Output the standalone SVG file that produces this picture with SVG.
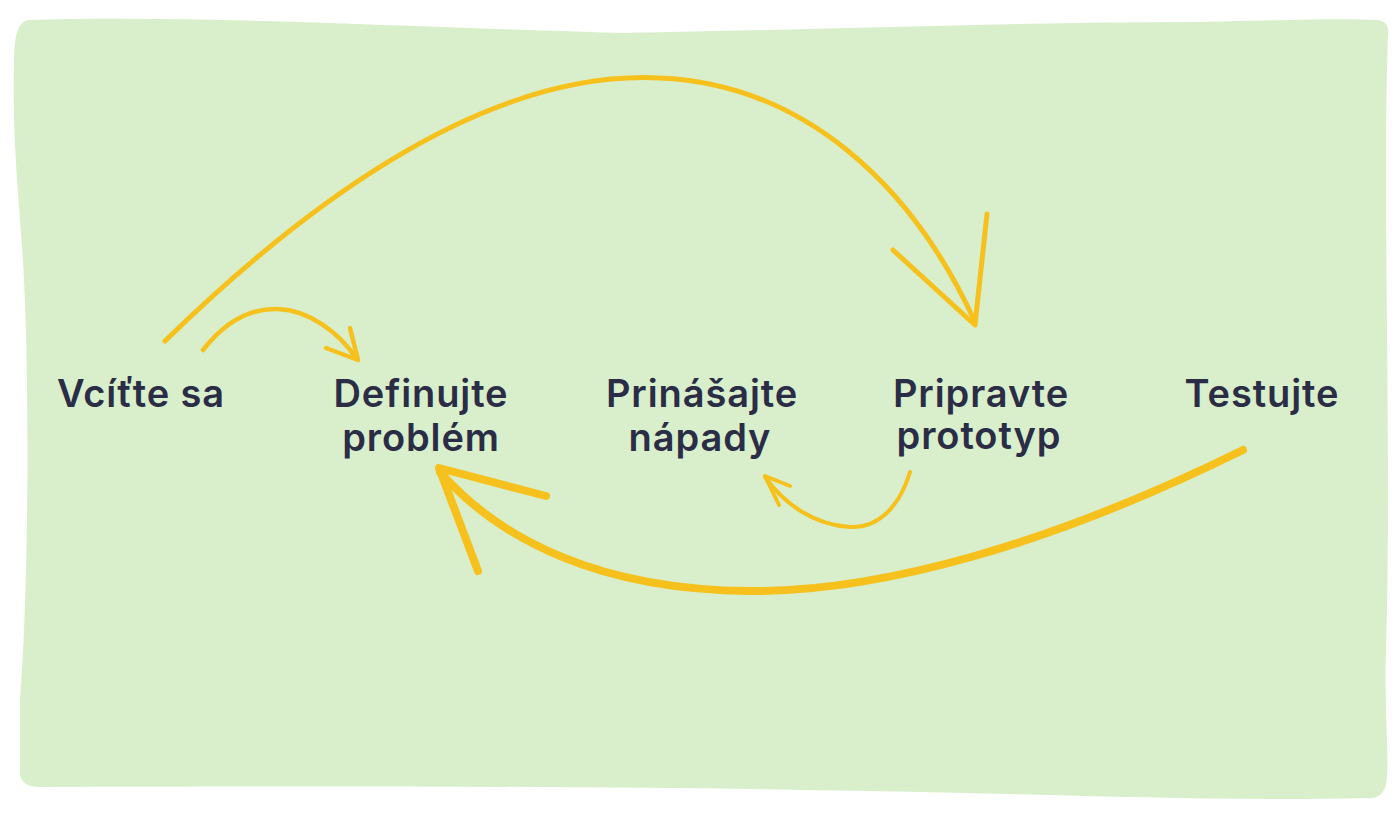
<svg xmlns="http://www.w3.org/2000/svg" width="1400" height="815" viewBox="0 0 1400 815">
<style>
.t{font-family:Inter,"Noto Sans",sans-serif;font-weight:600;font-size:38px;letter-spacing:0.9px;fill:#2a2d45;text-anchor:middle}
.c{fill:none;stroke:#f6c11d;stroke-linecap:round;stroke-linejoin:round}
</style>
<rect width="1400" height="815" fill="#ffffff"/>
<path d="M28,20 C200,15 380,26 620,33 C820,30 1000,22 1200,22 C1290,20 1340,18 1378,20 Q1390,22 1388,35 C1382,200 1392,450 1386,650 C1384,720 1390,760 1386,785 Q1382,800 1365,798 C1200,802 1000,792 800,790 C600,786 300,786 40,787 Q22,787 20,775 L20,700 C28,600 30,400 24,280 C20,200 12,150 14,60 Q14,22 28,20 Z" fill="#d9efcc"/>
<g id="connectors">
<g id="e1">
<path class="c" stroke-width="5" d="M165,341 C330,180 500,70 660,78 C800,84 910,180 975,322"/>
<path class="c" stroke-width="5" d="M893,250 L975,325 L987,214"/>
</g>
<g id="e2">
<path class="c" stroke-width="4.5" d="M203,350 C225,322 250,308 278,309 C310,310 340,334 356,358"/>
<path class="c" stroke-width="4.5" d="M326,348 L358,360 L350,328"/>
</g>
<g id="e3">
<path class="c" stroke-width="4" d="M910,472 C900,505 880,528 850,527 C815,525 785,505 765,477"/>
<path class="c" stroke-width="4" d="M790,486 L765,476 L779,505"/>
</g>
<g id="e4">
<path class="c" stroke-width="8" d="M1243,450 C1050,545 880,592 750,591 C600,590 500,540 440,472"/>
<path class="c" stroke-width="8" d="M546,496 L439,468 L478,571"/>
</g>
</g>
<g id="n1"><text class="t" x="141" y="407">Vcíťte sa</text></g>
<g id="n2"><text class="t" x="421" y="407">Definujte</text><text class="t" x="421" y="451">problém</text></g>
<g id="n3"><text class="t" x="702" y="407">Prinášajte</text><text class="t" x="700" y="451">nápady</text></g>
<g id="n4"><text class="t" x="981" y="407">Pripravte</text><text class="t" x="979" y="449">prototyp</text></g>
<g id="n5"><text class="t" x="1262" y="407">Testujte</text></g>
</svg>
